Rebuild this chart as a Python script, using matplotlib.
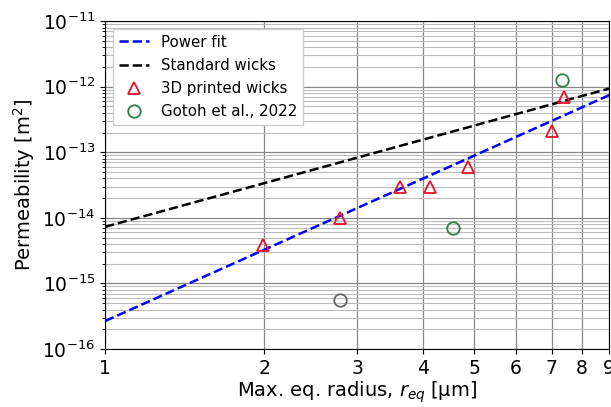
import numpy as np
import matplotlib
matplotlib.use("Agg")
import matplotlib.pyplot as plt
from matplotlib.ticker import LogLocator, NullFormatter

# 3D printed wicks
r_printed = [1.99, 2.79, 3.62, 4.13, 4.86, 7.0, 7.4]
k_printed = [3.85e-15, 1.0e-14, 2.95e-14, 3.0e-14, 5.9e-14, 2.1e-13, 6.9e-13]

# Gotoh et al., 2022
r_gotoh = [7.33, 4.56]
k_gotoh = [1.26e-12, 6.9e-15]
r_grey = [2.78]
k_grey = [5.6e-16]

# fit parameters K = a * r^b
fit_a, fit_b = 2.67e-16, 3.61
std_a, std_b = 7.3e-15, 2.21

xticks = [1, 2, 3, 4, 5, 6, 7, 8, 9]

r = np.linspace(1, 9, 200)

fig = plt.figure(figsize=(6.11, 4.07), dpi=100)
ax = fig.add_axes([0.172, 0.1425, 0.825, 0.8055])

ax.plot(r, fit_a * r**fit_b, '--', color='blue', lw=1.8, label='Power fit')
ax.plot(r, std_a * r**std_b, '--', color='black', lw=1.8, label='Standard wicks')
ax.plot(r_printed, k_printed, '^', mfc='none', mec='#e8102a', ms=9, mew=1.3,
        ls='none', label='3D printed wicks')
ax.plot(r_gotoh, k_gotoh, 'o', mfc='none', mec='#2e7d46', ms=9, mew=1.3,
        ls='none', label='Gotoh et al., 2022')
ax.plot(r_grey, k_grey, 'o', mfc='none', mec='#666666', ms=9, mew=1.3, ls='none')

ax.set_xscale('log')
ax.set_yscale('log')
ax.set_xlim(1, 9)
ax.set_ylim(1e-16, 1e-11)
ax.set_xticks(xticks)
ax.set_xticklabels([str(t) for t in xticks])
ax.xaxis.set_minor_formatter(NullFormatter())
ax.yaxis.set_major_locator(LogLocator(base=10, numticks=10))
ax.yaxis.set_minor_locator(LogLocator(base=10, subs=np.arange(2, 10), numticks=10))
ax.yaxis.set_minor_formatter(NullFormatter())

ax.grid(True, which='major', color='#888888', lw=0.9)
ax.grid(True, which='minor', axis='y', color='#bbbbbb', lw=0.8)
ax.tick_params(labelsize=13.5)

ax.set_xlabel(r'Max. eq. radius, $r_{eq}$ [µm]', fontsize=14, labelpad=1)
ax.set_ylabel(r'Permeability [m$^2$]', fontsize=14)

ax.legend(loc='upper left', fontsize=10.8, framealpha=1, edgecolor='#cccccc',
          fancybox=False, handlelength=2.0, labelspacing=0.55)

fig.savefig('out.png', dpi=100)
